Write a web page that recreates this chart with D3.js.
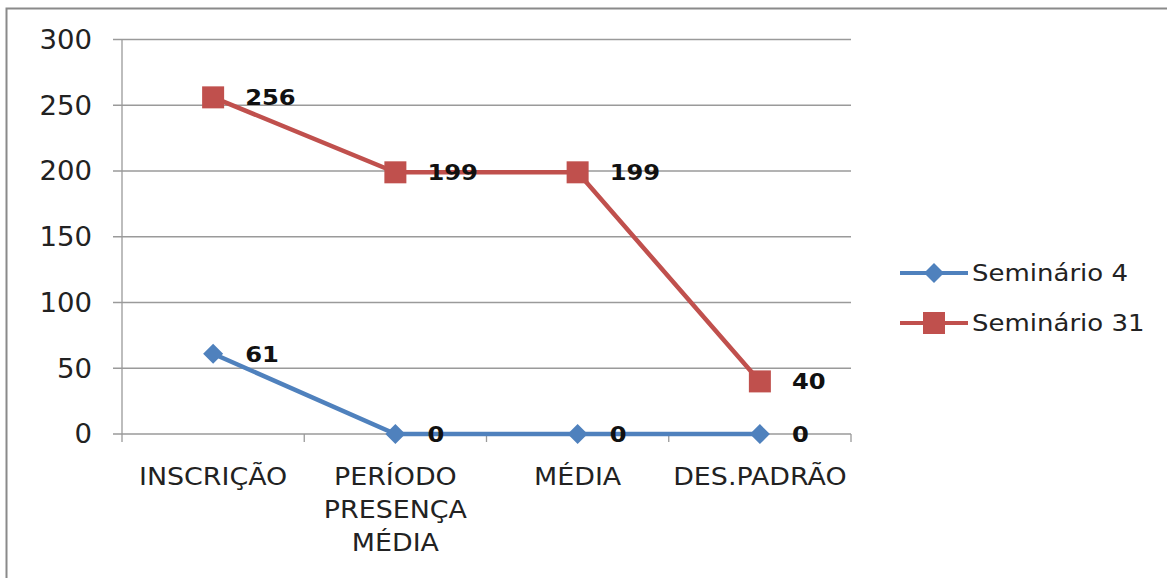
<!DOCTYPE html>
<html>
<head>
<meta charset="utf-8">
<script src="https://cdn.jsdelivr.net/npm/d3@7"></script>
<style>
  body { margin: 0; background: #fff; }
  text { font-family: "DejaVu Sans", sans-serif; fill: #222; }
</style>
</head>
<body>
<div id="chart"></div>
<script>
// data
let categories = [["INSCRIÇÃO"], ["PERÍODO", "PRESENÇA", "MÉDIA"], ["MÉDIA"], ["DES.PADRÃO"]];
let seriesNames = ["Seminário 4", "Seminário 31"];
let sem4 = [61, 0, 0, 0];
let sem31 = [256, 199, 199, 40];
let yTicks = [0, 50, 100, 150, 200, 250, 300];

var width = 1167,
    height = 578;

var svg = d3.select('#chart').append('svg')
    .attr('width', width)
    .attr('height', height);

// outer frame
svg.append("rect")
    .attr("x", 6.5).attr("y", 8.5)
    .attr("width", width + 10).attr("height", height + 10)
    .attr("fill", "none")
    .attr("stroke", "#8a8a8a")
    .attr("stroke-width", 2);

let scaleX = d3.scaleBand().domain(d3.range(categories.length)).range([122, 851]);
let scaleY = d3.scaleLinear().domain([0, 300]).range([434, 39.5]);

let g = svg.append("g");

// text placed in a group so it can be stretched sideways like the source
function label(parent, x, y, sx) {
    return parent.append("g")
        .attr("transform", `translate(${x},${y}) scale(${sx},1)`)
        .append("text");
}

// gridlines
g.selectAll(".grid").data(yTicks).enter().append("line")
    .attr("class", "grid")
    .attr("x1", 113).attr("x2", 851)
    .attr("y1", d => scaleY(d)).attr("y2", d => scaleY(d))
    .attr("stroke", "#9a9a9a").attr("stroke-width", 1.3);

// y axis line
g.append("line")
    .attr("x1", 122).attr("x2", 122)
    .attr("y1", scaleY(300)).attr("y2", scaleY(0))
    .attr("stroke", "#9a9a9a").attr("stroke-width", 1.3);

// y labels
yTicks.forEach(d => {
    label(g, 92, scaleY(d), 1.06)
        .attr("dy", "0.36em")
        .attr("text-anchor", "end")
        .style("font-size", "26px")
        .text(d);
});

// x ticks at category boundaries
let bounds = d3.range(categories.length + 1).map(i => 122 + i * scaleX.step());
g.selectAll(".xtick").data(bounds).enter().append("line")
    .attr("x1", d => d).attr("x2", d => d)
    .attr("y1", scaleY(0)).attr("y2", scaleY(0) + 8)
    .attr("stroke", "#9a9a9a").attr("stroke-width", 1.3);

// x labels
categories.forEach((lines, i) => {
    let t = label(g, scaleX(i) + scaleX.bandwidth() / 2, 485, 1.12)
        .attr("text-anchor", "middle")
        .style("font-size", "24px");
    lines.forEach((l, j) => {
        t.append("tspan")
            .attr("x", 0)
            .attr("y", j * 33)
            .text(l);
    });
});

let cx = i => scaleX(i) + scaleX.bandwidth() / 2;
let line = d3.line().x((d, i) => cx(i)).y(d => scaleY(d));

let series = [
    {name: seriesNames[0], values: sem4, color: "#4f81bd", marker: "diamond"},
    {name: seriesNames[1], values: sem31, color: "#c0504d", marker: "square"}
];

function drawMarker(sel, s, x, y) {
    if (s.marker === "square") {
        sel.append("rect")
            .attr("x", x - 11).attr("y", y - 11)
            .attr("width", 22).attr("height", 22)
            .attr("fill", s.color);
    } else {
        sel.append("path")
            .attr("d", `M${x},${y - 10}L${x + 10},${y}L${x},${y + 10}L${x - 10},${y}Z`)
            .attr("fill", s.color);
    }
}

series.forEach(s => {
    g.append("path")
        .datum(s.values)
        .attr("d", line)
        .attr("fill", "none")
        .attr("stroke", s.color)
        .attr("stroke-width", 4.5);
    s.values.forEach((v, i) => drawMarker(g, s, cx(i), scaleY(v)));
    s.values.forEach((v, i) => {
        label(g, cx(i) + 32, scaleY(v), 1.1)
            .attr("dy", "0.36em")
            .style("font-size", "22px")
            .style("font-weight", "bold")
            .style("fill", "#111")
            .text(v);
    });
});

// legend
let legend = svg.append("g");
series.forEach((s, i) => {
    let y = 273 + i * 50;
    legend.append("line")
        .attr("x1", 900).attr("x2", 968)
        .attr("y1", y).attr("y2", y)
        .attr("stroke", s.color).attr("stroke-width", 4);
    drawMarker(legend, s, 934, y);
    label(legend, 972, y, 1.13)
        .attr("dy", "0.36em")
        .style("font-size", "23px")
        .text(s.name);
});
</script>
</body>
</html>
